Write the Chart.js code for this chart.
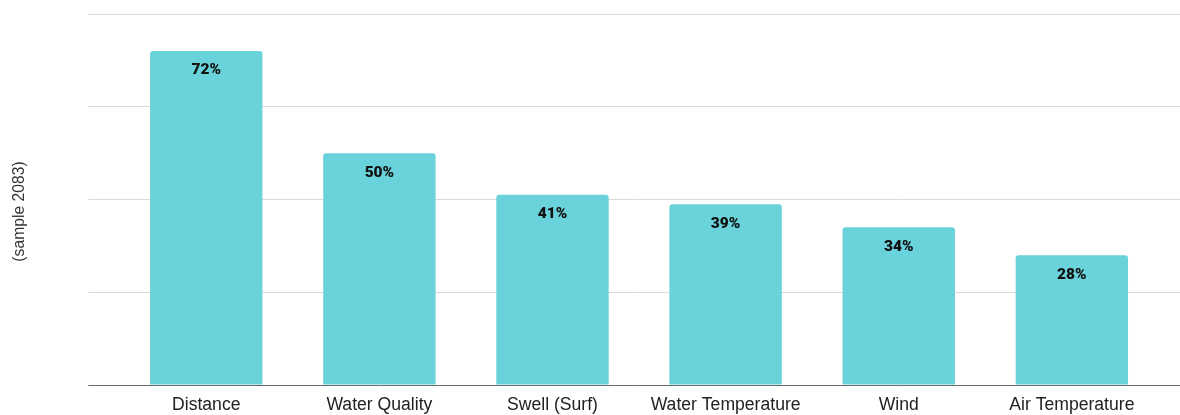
<!DOCTYPE html>
<html>
<head>
<meta charset="utf-8">
<title>Factors</title>
<script src="https://cdn.jsdelivr.net/npm/chart.js@4/dist/chart.umd.min.js"></script>
<style>
  html, body { margin: 0; padding: 0; background: #ffffff; }
  #wrap { width: 1180px; height: 415px; position: relative; }
</style>
</head>
<body>
<div id="wrap"><canvas id="chart"></canvas></div>
<script>
const categories = ['Distance', 'Water Quality', 'Swell (Surf)', 'Water Temperature', 'Wind', 'Air Temperature'];
const shares = [72, 50, 41, 39, 34, 28];
const valueLabels = ['72%', '50%', '41%', '39%', '34%', '28%'];
const axisTitle = '(sample 2083)';

const gridColor = (ctx) => (ctx.tick && ctx.tick.value === 0 ? '#6b6b6b' : '#d9d9d9');

// Percentage labels just inside the top of each bar
const barLabels = {
  id: 'barLabels',
  afterDatasetsDraw(chart) {
    const ctx = chart.ctx;
    const meta = chart.getDatasetMeta(0);
    ctx.save();
    ctx.font = '900 15.5px Roboto';
    ctx.fillStyle = '#111111';
    ctx.textAlign = 'center';
    ctx.textBaseline = 'middle';
    meta.data.forEach((bar, i) => {
      ctx.fillText(valueLabels[i], bar.x, bar.y + 19.5);
    });
    ctx.restore();
  }
};

// Rotated axis caption on the left
const sideTitle = {
  id: 'sideTitle',
  afterDraw(chart) {
    const ctx = chart.ctx;
    const area = chart.chartArea;
    ctx.save();
    ctx.translate(20, (area.top + area.bottom) / 2 + 12);
    ctx.rotate(-Math.PI / 2);
    ctx.font = '15.7px "Liberation Sans"';
    ctx.fillStyle = '#333333';
    ctx.textAlign = 'center';
    ctx.textBaseline = 'middle';
    ctx.fillText(axisTitle, 0, 0);
    ctx.restore();
  }
};

new Chart(document.getElementById('chart'), {
  type: 'bar',
  data: {
    labels: categories,
    datasets: [{
      data: shares,
      backgroundColor: '#69d2da',
      borderRadius: { topLeft: 3, topRight: 3, bottomLeft: 0, bottomRight: 0 },
      borderSkipped: false,
      categoryPercentage: 1,
      barPercentage: 0.649
    }]
  },
  options: {
    responsive: true,
    maintainAspectRatio: false,
    animation: false,
    layout: { padding: { top: 14, left: 0, right: 0, bottom: 0 } },
    plugins: {
      legend: { display: false },
      tooltip: { enabled: false }
    },
    scales: {
      x: {
        grid: { display: false, drawTicks: false },
        border: { display: false },
        ticks: {
          color: '#222222',
          font: { family: '"Liberation Sans"', size: 17.6 },
          padding: 10,
          maxRotation: 0,
          autoSkip: false
        },
        afterFit(scale) { scale.height = 30; }
      },
      y: {
        position: 'left',
        min: 0,
        max: 80,
        ticks: { stepSize: 20, display: false },
        grid: { color: gridColor, lineWidth: 1, drawTicks: true, tickLength: 31.4 },
        border: { display: false },
        afterFit(scale) { scale.width = 119.7; }
      },
      yRight: {
        position: 'right',
        min: 0,
        max: 80,
        ticks: { stepSize: 20, display: false },
        grid: { color: gridColor, lineWidth: 1, drawOnChartArea: false, drawTicks: true, tickLength: 21.6 },
        border: { display: false },
        afterFit(scale) { scale.width = 21.6; }
      }
    }
  },
  plugins: [barLabels, sideTitle]
});
</script>
</body>
</html>
